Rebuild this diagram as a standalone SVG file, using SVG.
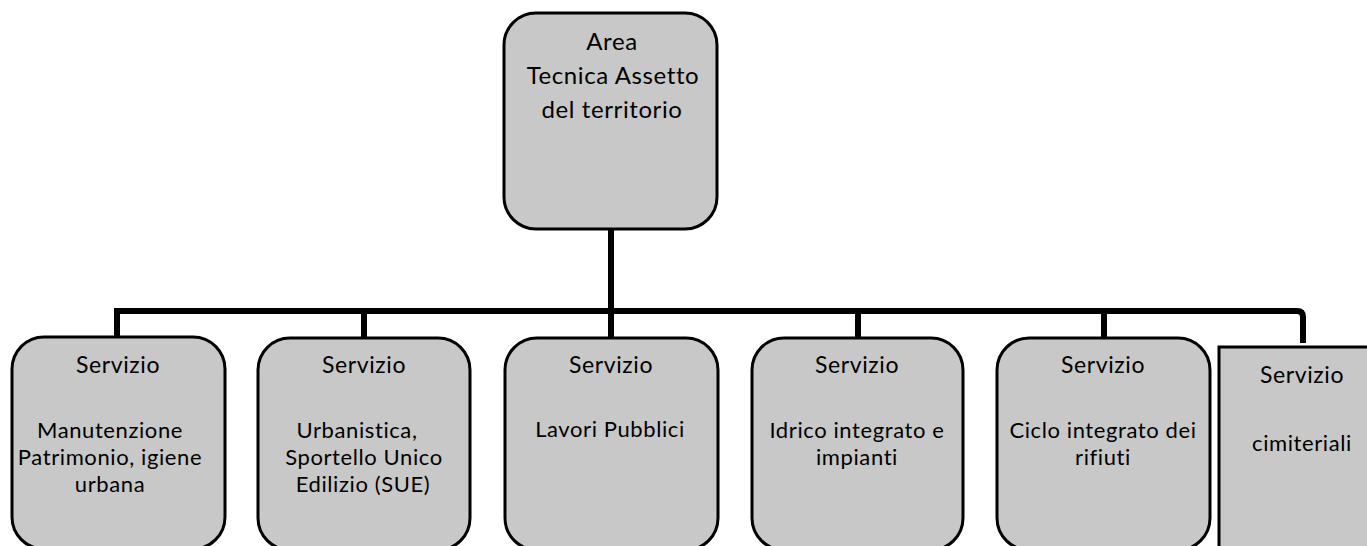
<svg xmlns="http://www.w3.org/2000/svg" width="1367" height="546" viewBox="0 0 1367 546">
<style>
.box{fill:#c8c8c8;stroke:#000;stroke-width:3}
.t{font-family:Lato,"Open Sans","Liberation Sans",sans-serif;font-size:22px;fill:#000;text-anchor:middle;letter-spacing:0.6px}
.h{font-size:23px}
.top{font-size:24px}
.conn{fill:none;stroke:#000;stroke-width:6}
</style>
<rect width="1367" height="546" fill="#fff"/>
<g id="connectors">
<path class="conn" d="M611 229 V311"/>
<path class="conn" d="M117 337 V311 H1297 Q1303 311 1303 317 V343" />
<path class="conn" d="M364 311 V338"/>
<path class="conn" d="M611 311 V338"/>
<path class="conn" d="M858 311 V338"/>
<path class="conn" d="M1104 311 V338"/>
</g>
<g id="area-tecnica">
<rect class="box" x="504" y="13" width="213" height="216" rx="32"/>
<text class="t top" x="612" y="50">Area</text>
<text class="t top" x="613" y="84">Tecnica Assetto</text>
<text class="t top" x="612" y="118">del territorio</text>
</g>
<g id="servizio-manutenzione">
<rect class="box" x="12" y="337" width="213" height="212" rx="32"/>
<text class="t h" x="118" y="373">Servizio</text>
<text class="t" x="110" y="438">Manutenzione</text>
<text class="t" x="110" y="465">Patrimonio, igiene</text>
<text class="t" x="110" y="492">urbana</text>
</g>
<g id="servizio-urbanistica">
<rect class="box" x="258" y="338" width="212" height="212" rx="32"/>
<text class="t h" x="364" y="373">Servizio</text>
<text class="t" x="357" y="438">Urbanistica,</text>
<text class="t" x="364" y="465">Sportello Unico</text>
<text class="t" x="363" y="492">Edilizio (SUE)</text>
</g>
<g id="servizio-lavori">
<rect class="box" x="505" y="338" width="213" height="212" rx="32"/>
<text class="t h" x="611" y="373">Servizio</text>
<text class="t" x="610" y="437">Lavori Pubblici</text>
</g>
<g id="servizio-idrico">
<rect class="box" x="752" y="338" width="211" height="212" rx="32"/>
<text class="t h" x="857" y="373">Servizio</text>
<text class="t" x="857" y="438">Idrico integrato e</text>
<text class="t" x="857" y="465">impianti</text>
</g>
<g id="servizio-ciclo">
<rect class="box" x="997" y="338" width="213" height="212" rx="32"/>
<text class="t h" x="1103" y="373">Servizio</text>
<text class="t" x="1103" y="438">Ciclo integrato dei</text>
<text class="t" x="1103" y="465">rifiuti</text>
</g>
<g id="servizio-cimiteriali">
<rect class="box" x="1219" y="347" width="160" height="210"/>
<text class="t h" x="1302" y="383">Servizio</text>
<text class="t" x="1302" y="451">cimiteriali</text>
</g>
</svg>
